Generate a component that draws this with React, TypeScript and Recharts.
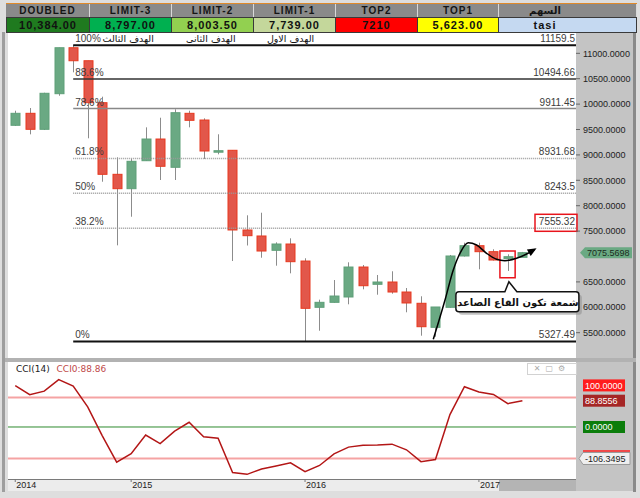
import React from "react";
import {
  ComposedChart,
  Bar,
  Line,
  XAxis,
  YAxis,
  ReferenceLine,
  ReferenceArea,
  ReferenceDot,
} from "recharts";

// monthly TASI candles, May 2014 .. Apr 2017
const months = [
  "2014-05", "2014-06", "2014-07", "2014-08", "2014-09", "2014-10", "2014-11", "2014-12",
  "2015-01", "2015-02", "2015-03", "2015-04", "2015-05", "2015-06", "2015-07", "2015-08",
  "2015-09", "2015-10", "2015-11", "2015-12", "2016-01", "2016-02", "2016-03", "2016-04",
  "2016-05", "2016-06", "2016-07", "2016-08", "2016-09", "2016-10", "2016-11", "2016-12",
  "2017-01", "2017-02", "2017-03", "2017-04",
];
const opens = [
  9583, 9819, 9504, 10205, 11110, 10854, 10028, 8618, 8335, 8886, 9313, 8756,
  9819, 9687, 9077, 9091, 7522, 7404, 7122, 7246, 6911, 6000, 6098, 6203,
  6793, 6453, 6498, 6301, 6079, 5606, 6000, 7010, 7213, 7095, 6957, 6984,
];
const highs = [
  9870, 9923, 10224, 11110, 11159.5, 10854, 10146, 8953, 8925, 9543, 9732, 9898,
  9870, 9720, 9406, 9091, 7811, 7862, 7279, 7358, 6965, 6150, 6537, 6886,
  6833, 6636, 6709, 6380, 6217, 6006, 7030, 7272, 7272, 7142, 7043, 7090,
];
const lows = [
  9569, 9405, 9490, 10165, 10626, 9327, 8472, 7220, 7783, 8880, 8506, 8506,
  9543, 8919, 9012, 6911, 7217, 6976, 6819, 6669, 5327.49, 5539, 6090, 6059,
  6354, 6248, 6268, 5902, 5441, 5420, 5990, 7000, 6748, 6920, 6715, 6984,
];
const closes = [
  9819, 9504, 10213, 11110, 10854, 10028, 8618, 8335, 8874, 9313, 8776, 9831,
  9681, 9077, 9083, 7522, 7410, 7108, 7246, 6898, 5980, 6098, 6222, 6793,
  6425, 6498, 6301, 6085, 5618, 6006, 7010, 7213, 7095, 6931, 6996, 7075.5698,
];
const cci = [
  140, 109, 121, 160, 138, 68, -29, -119, -90, -27, -56, -14,
  16, -33, -38, -154, -160, -142, -132, -121, -151, -130, -91, -68,
  -62, -61, -58, -77, -117, -110, 42, 136, 118, 110, 79, 88.86,
];

const fibPercents = ["100%", "88.6%", "78.6%", "61.8%", "50%", "38.2%", "0%"];
const fibPrices = [11159.5, 10494.66, 9911.45, 8931.68, 8243.5, 7555.32, 5327.49];

// 7000 sits under the last-price tag, so it is not shown
const priceTicks = [5500, 6000, 6500, 7500, 8000, 8500, 9000, 9500, 10000, 10500, 11000];
const yearTicks = [0, 8, 20, 32];
const yearLabels = ["2014", "2015", "2016", "2017"];

const cciMarks = [100, 88.8556, 0, -106.3495];
const cciMarkText = ["100.0000", "88.8556", "0.0000", "-106.3495"];

const headerNames = ["DOUBLED", "LIMIT-3", "LIMIT-2", "LIMIT-1", "TOP2", "TOP1", "السهم"];
const headerValues = ["10,384.00", "8,797.00", "8,003.50", "7,739.00", "7210", "5,623.00", "tasi"];

const targetNotes = ["الهدف الثالث", "الهدف الثانى", "الهدف الاول"];
const targetNoteX = [7.8, 13.5, 19.0];

// hand-drawn arrow: bottom -> peak -> dip -> up
const arrowIdx = [28.85, 29.66, 30.23, 30.69, 31.26, 31.84, 32.53, 33.22, 33.79, 34.6, 35.29, 35.86];
const arrowVal = [5370, 6144, 6734, 7063, 7272, 7226, 7063, 6945, 6917, 6965, 7049, 7142];

const lastPrice = 7075.5698;

const rows = months.map((m, i) => ({
  i,
  month: m,
  open: opens[i],
  high: highs[i],
  low: lows[i],
  close: closes[i],
  cci: cci[i],
}));
const arrowPts = arrowIdx.map((x, k) => ({ i: x, v: arrowVal[k] }));

const headerBg = ["#1f7a1f", "#00b050", "#92d050", "#c4d79b", "#ff0000", "#ffff00", "#c5d9f1"];
const colWidths = [84, 82, 82, 82, 82, 81, 138];

const BODY_W = 9;

function Candle(props: any) {
  const { x, y, width, height, payload } = props;
  const { open, close, high, low } = payload;
  const span = high - low || 1;
  const py = (v: number) => y + ((high - v) / span) * height;
  const up = close >= open;
  const top = py(Math.max(open, close));
  const bot = py(Math.min(open, close));
  const mid = x + width / 2;
  const cx = Math.round(mid) + 0.5;
  return (
    <g>
      <line x1={cx} x2={cx} y1={y} y2={y + height} stroke="#8c8c8c" strokeWidth={1} />
      <rect
        x={cx - BODY_W / 2}
        y={top}
        width={BODY_W}
        height={Math.max(bot - top, 1.5)}
        fill={up ? "#6aa983" : "#e2574a"}
        stroke={up ? "#5e9f78" : "#e8391f"}
        strokeWidth={1}
      />
    </g>
  );
}

const fibStyle = [
  { stroke: "#111", width: 2, dash: undefined },
  { stroke: "#333", width: 1.5, dash: undefined },
  { stroke: "#888", width: 1.5, dash: undefined },
  { stroke: "#9a9a9a", width: 1.5, dash: "1 1" },
  { stroke: "#9a9a9a", width: 1.5, dash: "1 1" },
  { stroke: "#9a9a9a", width: 1.5, dash: "1 1" },
  { stroke: "#111", width: 2, dash: undefined },
];

function makeFibLabel(k: number) {
  return (props: any) => {
    const vb = props.viewBox || {};
    const x = vb.x;
    const y = vb.y;
    const w = vb.width;
    const right = x + w - 1;
    const boxed = fibPrices[k] === 7555.32;
    return (
      <g>
        <text x={x + 2} y={y - 3} fontSize={10} fill="#3c3c3c">
          {fibPercents[k]}
        </text>
        <text x={right} y={y - 3} fontSize={10} fill="#3c3c3c" textAnchor="end">
          {String(fibPrices[k])}
        </text>
        {boxed && (
          <rect x={right - 40} y={y - 14} width={42} height={17} fill="none" stroke="#e8141c" strokeWidth={1.5} />
        )}
      </g>
    );
  };
}

function PriceTag(props: any) {
  const vb = props.viewBox || {};
  const x0 = vb.x + vb.width + 4;
  const y = vb.y;
  return (
    <g>
      <polygon
        points={`${x0},${y} ${x0 + 5},${y - 5.5} ${x0 + 52},${y - 5.5} ${x0 + 52},${y + 5.5} ${x0 + 5},${y + 5.5}`}
        fill="#6aa983"
      />
      <text x={x0 + 7} y={y + 3.5} fontSize={9} fill="#1b2b20">
        {lastPrice.toFixed(4)}
      </text>
    </g>
  );
}

function ArrowDot(props: any) {
  const { cx, cy, index } = props;
  if (index !== arrowIdx.length - 1) return <g key={index} />;
  return (
    <g key={index} transform={`translate(${cx},${cy}) rotate(-30)`}>
      <polygon points="2,0 -7,-3.8 -7,3.8" fill="#000" />
    </g>
  );
}

function Callout(props: any) {
  const { cx, cy } = props;
  const bx = cx - 52;
  const by = cy + 14;
  return (
    <g>
      <rect x={bx + 3} y={by + 3} width={123} height={20} rx={3} fill="#8f8f8f" opacity={0.55} />
      <path
        d={`M${bx + 3},${by} L${cx - 3},${by} L${cx + 1},${cy + 4} L${cx + 9},${by} L${bx + 120},${by} Q${bx + 123},${by} ${bx + 123},${by + 3} L${bx + 123},${by + 17} Q${bx + 123},${by + 20} ${bx + 120},${by + 20} L${bx + 3},${by + 20} Q${bx},${by + 20} ${bx},${by + 17} L${bx},${by + 3} Q${bx},${by} ${bx + 3},${by} Z`}
        fill="#fff"
        stroke="#111"
        strokeWidth={1.5}
      />
      <text x={bx + 62} y={by + 14} fontSize={10} fontWeight="bold" textAnchor="middle" fill="#111" fontFamily="'DejaVu Sans', Arial">
        شمعة تكون القاع الصاعد
      </text>
    </g>
  );
}

function NoteText(k: number) {
  return (props: any) => (
    <text x={props.cx} y={props.cy - 3} fontSize={9.5} textAnchor="middle" fill="#111" fontFamily="'DejaVu Sans', Arial">
      {targetNotes[k]}
    </text>
  );
}

const cciMarkStyle = [
  { bg: "#ff1d1d", fg: "#fff", dy: -12, w: 42, border: "none" },
  { bg: "#a52626", fg: "#fff", dy: 0, w: 42, border: "none" },
  { bg: "#0b7d0b", fg: "#fff", dy: 0, w: 42, border: "none" },
  { bg: "#efefef", fg: "#222", dy: 0, w: 47, border: "#999" },
];

function CciTick(props: any) {
  const { x, y, payload } = props;
  const k = cciMarks.indexOf(payload.value);
  if (k < 0) return <g />;
  const s = cciMarkStyle[k];
  const yy = y + s.dy;
  return (
    <g>
      {k === 3 && <line x1={x} x2={x + 47} y1={yy - 7.5} y2={yy - 7.5} stroke="#ff2020" strokeWidth={1.5} />}
      {k === 3 ? (
        <polygon
          points={`${x - 4},${yy} ${x},${yy - 6} ${x + s.w},${yy - 6} ${x + s.w},${yy + 6} ${x},${yy + 6}`}
          fill={s.bg}
          stroke={s.border}
        />
      ) : (
        <rect x={x} y={yy - 6} width={s.w} height={12} fill={s.bg} />
      )}
      <text x={x + 2} y={yy + 3.5} fontSize={9} fill={s.fg}>
        {cciMarkText[k]}
      </text>
    </g>
  );
}

function YearTick(props: any) {
  const { x, y, payload } = props;
  const k = yearTicks.indexOf(payload.value);
  return (
    <text x={x + 1} y={y + 6} fontSize={9} fill="#222">
      {yearLabels[k]}
    </text>
  );
}

export default function App() {
  return (
    <div
      style={{
        position: "absolute",
        left: 0,
        top: 0,
        width: 640,
        height: 498,
        background: "#dedede",
        overflow: "hidden",
        fontFamily: "Arial, 'Liberation Sans', 'DejaVu Sans', sans-serif",
      }}
    >
      {/* window frame */}
      <div style={{ position: "absolute", left: 2, top: 32, width: 3, height: 460, background: "#9e9e9e" }} />
      <div style={{ position: "absolute", left: 633, top: 32, width: 3, height: 460, background: "#8a8a8a" }} />

      {/* header table */}
      <div style={{ position: "absolute", left: 6, top: 3, display: "flex", borderTop: "1px solid #e08a2a" }}>
        {headerNames.map((h, k) => (
          <div key={h} style={{ width: colWidths[k], boxSizing: "border-box" }}>
            <div
              style={{
                height: 13,
                background: "#8a8a8a",
                borderRight: "1px solid #d8d8d8",
                color: "#151515",
                fontWeight: "bold",
                fontSize: 10,
                letterSpacing: k === 6 ? 0 : 1,
                lineHeight: "13px",
                textAlign: "center",
                paddingRight: k === 6 ? 45 : 0,
              }}
            >
              {h}
            </div>
            <div
              style={{
                height: 14,
                background: headerBg[k],
                border: "1px solid #3a3a3a",
                borderLeft: k === 0 ? "1px solid #3a3a3a" : "none",
                color: "#111",
                fontWeight: "bold",
                fontSize: 11,
                letterSpacing: 1,
                lineHeight: "14px",
                textAlign: "center",
                paddingRight: k === 6 ? 45 : 0,
              }}
            >
              {headerValues[k]}
            </div>
          </div>
        ))}
      </div>

      {/* main price panel */}
      <div style={{ position: "absolute", left: 8, top: 33, width: 568, height: 325, background: "#fff" }} />
      <div style={{ position: "absolute", left: 576, top: 33, width: 57, height: 325, background: "#c4c4c4" }} />
      <div style={{ position: "absolute", left: 8, top: 33 }}>
        <ComposedChart width={625} height={325} data={rows} margin={{ top: 0, right: 0, bottom: 0, left: 0 }}>
          <XAxis dataKey="i" type="number" domain={[-0.5, 38.7]} hide allowDataOverflow />
          <YAxis
            orientation="right"
            width={57}
            domain={[5002, 11400]}
            ticks={priceTicks}
            interval={0}
            tickFormatter={(v: number) => v.toFixed(4)}
            tick={{ fontSize: 9, fill: "#222" }}
            tickSize={4}
            tickMargin={3}
            tickLine={{ stroke: "#666" }}
            axisLine={false}
            allowDataOverflow
          />
          {fibPrices.map((p, k) => (
            <ReferenceLine
              key={p}
              segment={[
                { x: 4, y: p },
                { x: 38.7, y: p },
              ]}
              stroke={fibStyle[k].stroke}
              strokeWidth={fibStyle[k].width}
              strokeDasharray={fibStyle[k].dash}
              label={makeFibLabel(k)}
            />
          ))}
          {targetNotes.map((t, k) => (
            <ReferenceDot key={t} x={targetNoteX[k]} y={fibPrices[0]} r={0} shape={NoteText(k)} />
          ))}
          <Bar dataKey={(d: any) => [d.low, d.high]} shape={<Candle />} barSize={9} isAnimationActive={false} />
          <ReferenceArea x1={33.45} x2={34.5} y1={6581} y2={7108} fill="none" stroke="#e8141c" strokeWidth={1.5} />
          <Line
            data={arrowPts}
            dataKey="v"
            type="monotone"
            stroke="#000"
            strokeWidth={1.5}
            dot={ArrowDot}
            activeDot={false}
            isAnimationActive={false}
          />
          <ReferenceDot x={34} y={6581} r={0} shape={Callout} />
          <ReferenceLine y={lastPrice} stroke="none" label={PriceTag} />
        </ComposedChart>
      </div>

      {/* separator */}
      <div style={{ position: "absolute", left: 5, top: 358, width: 631, height: 4, background: "#b2b2b2" }} />

      {/* CCI panel */}
      <div style={{ position: "absolute", left: 8, top: 362, width: 568, height: 117, background: "#fff" }} />
      <div style={{ position: "absolute", left: 576, top: 362, width: 57, height: 129, background: "#c4c4c4" }} />
      <div style={{ position: "absolute", left: 8, top: 479, width: 568, height: 12, background: "#ececec", borderTop: "1px solid #7a7a7a", boxSizing: "border-box" }} />
      <div style={{ position: "absolute", left: 499, top: 480, width: 77, height: 11, background: "#b4b4b4" }} />
      <div style={{ position: "absolute", left: 8, top: 362 }}>
        <ComposedChart width={625} height={129} data={rows} margin={{ top: 0, right: 0, bottom: 0, left: 0 }}>
          <XAxis
            dataKey="i"
            type="number"
            domain={[-0.5, 38.7]}
            allowDataOverflow
            ticks={yearTicks}
            interval={0}
            tick={<YearTick />}
            height={12}
            tickSize={3}
            tickMargin={0}
            axisLine={false}
            tickLine={{ stroke: "#777" }}
          />
          <YAxis
            orientation="right"
            width={57}
            domain={[-175.7, 219.6]}
            allowDataOverflow
            ticks={cciMarks}
            interval={0}
            tick={<CciTick />}
            tickSize={0}
            tickMargin={7}
            tickLine={false}
            axisLine={false}
          />
          <ReferenceLine y={100} stroke="#f5a3a3" strokeWidth={2} />
          <ReferenceLine y={0} stroke="#2e8b2e" strokeWidth={1} />
          <ReferenceLine y={-106.3495} stroke="#f5a3a3" strokeWidth={2} />
          <Line dataKey="cci" type="linear" stroke="#b31616" strokeWidth={1.5} dot={false} activeDot={false} isAnimationActive={false} />
        </ComposedChart>
      </div>
      <div style={{ position: "absolute", left: 16, top: 364, fontSize: 9, color: "#222", fontFamily: "Tahoma, 'DejaVu Sans', Arial" }}>
        CCI(14) <span style={{ color: "#c04a4a", marginLeft: 4 }}>CCI0:88.86</span>
      </div>
      <div
        style={{
          position: "absolute",
          left: 527,
          top: 363,
          width: 48,
          height: 10,
          border: "1px solid #d2d2d2",
          fontSize: 8,
          color: "#aaa",
          lineHeight: "10px",
          textAlign: "center",
          letterSpacing: 5,
        }}
      >
        ✕▢⚙
      </div>
    </div>
  );
}
